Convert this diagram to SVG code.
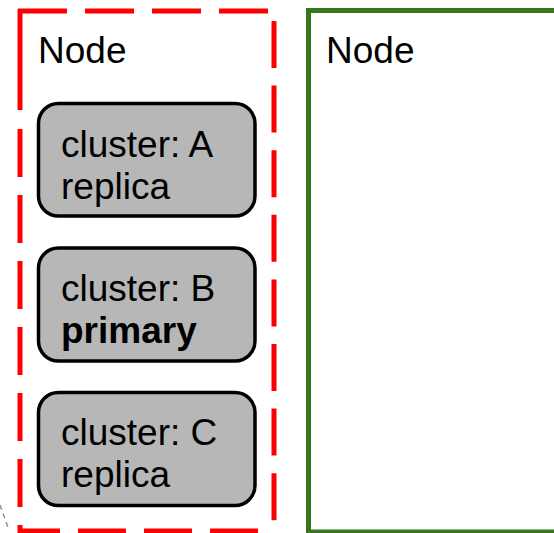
<svg xmlns="http://www.w3.org/2000/svg" width="554" height="533" viewBox="0 0 554 533">
<style>
  .red { stroke: #ff0000; stroke-width: 5; fill: none; }
  .cl { fill: #b7b7b7; stroke: #000000; stroke-width: 3.5; }
  .t { font-family: "Liberation Sans", Arial, sans-serif; font-size: 37px; fill: #000000; }
  .b { font-weight: bold; }
</style>
<rect width="554" height="533" fill="#ffffff"/>
<g id="connectors">
  <line x1="0" y1="505" x2="9" y2="530" stroke="#8a949e" stroke-width="1.5" stroke-dasharray="5 4"/>
</g>
<g id="node-left">
  <line class="red" x1="18" y1="11" x2="268" y2="11" stroke-dasharray="49 18"/>
  <line class="red" x1="274" y1="21" x2="274" y2="533" stroke-dasharray="47 17.6"/>
  <line class="red" x1="18" y1="531" x2="258" y2="531" stroke-dasharray="48 18" stroke-dashoffset="6"/>
  <line class="red" x1="20" y1="9" x2="20" y2="110"/>
  <line class="red" x1="20" y1="129" x2="20" y2="533" stroke-dasharray="48 18"/>
  <text class="t" x="38" y="63">Node</text>
</g>
<g id="node-right">
  <rect x="308.5" y="10.5" width="260" height="521.5" fill="none" stroke="#38761d" stroke-width="5"/>
  <text class="t" x="326" y="63">Node</text>
</g>
<g id="cluster-a">
  <rect class="cl" x="38.5" y="103.5" width="216.5" height="112.5" rx="20"/>
  <text class="t" x="61" y="157">cluster: A</text>
  <text class="t" x="61" y="199">replica</text>
</g>
<g id="cluster-b">
  <rect class="cl" x="38.5" y="248" width="216.5" height="113" rx="20"/>
  <text class="t" x="61" y="301">cluster: B</text>
  <text class="t b" x="61" y="343">primary</text>
</g>
<g id="cluster-c">
  <rect class="cl" x="38.5" y="392.5" width="216.5" height="113" rx="20"/>
  <text class="t" x="61" y="445">cluster: C</text>
  <text class="t" x="61" y="487">replica</text>
</g>
</svg>
